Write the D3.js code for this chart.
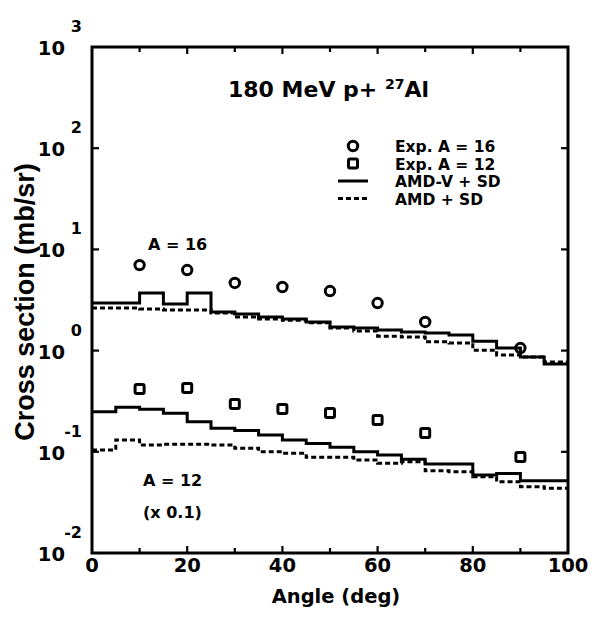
<!DOCTYPE html>
<html>
<head>
<meta charset="utf-8">
<script src="https://cdn.jsdelivr.net/npm/d3@7"></script>
<style>
  body { margin: 0; background: #fff; }
  svg text { font-family: "DejaVu Sans", sans-serif; font-weight: bold; fill: #000; }
</style>
</head>
<body>
<svg width="596" height="629"></svg>
<script>
// measured angles (deg) and cross sections (mb/sr)
var angles = [10, 20, 30, 40, 50, 60, 70, 90];
var expA16 = [7.0, 6.25, 4.66, 4.25, 3.88, 2.95, 1.92, 1.06];
var expA12 = [0.418, 0.427, 0.297, 0.265, 0.242, 0.206, 0.153, 0.089];

// histogram bins, 5 deg wide
var binEdges = [0, 5, 10, 15, 20, 25, 30, 35, 40, 45, 50, 55, 60, 65, 70, 75, 80, 85, 90, 95, 100];
var amdvA16 = [2.95, 2.95, 3.71, 2.89, 3.71, 2.41, 2.30, 2.15, 2.05, 1.92, 1.71, 1.67, 1.60, 1.53, 1.49, 1.43, 1.24, 1.06, 0.865, 0.738];
var amdA16 = [2.64, 2.64, 2.58, 2.52, 2.52, 2.35, 2.15, 2.05, 2.00, 1.88, 1.67, 1.56, 1.39, 1.36, 1.22, 1.19, 1.01, 0.905, 0.865, 0.771];
var amdvA12 = [0.249, 0.275, 0.263, 0.240, 0.198, 0.171, 0.162, 0.1466, 0.131, 0.121, 0.1107, 0.1002, 0.0929, 0.0843, 0.0757, 0.0757, 0.059, 0.0612, 0.0518, 0.0518];
var amdA12 = [0.1042, 0.131, 0.1167, 0.1186, 0.1186, 0.1167, 0.1084, 0.1002, 0.0966, 0.0883, 0.0883, 0.083, 0.0769, 0.0798, 0.065, 0.0636, 0.0567, 0.0507, 0.0452, 0.0436];

var xTicks = [0, 10, 20, 30, 40, 50, 60, 70, 80, 90, 100];
var xLabels = [0, 20, 40, 60, 80, 100];
var yTicks = [1e-2, 1e-1, 1e0, 1e1, 1e2, 1e3];
var yExps = ["-2", "-1", "0", "1", "2", "3"];

var legendLabels = ["Exp. A = 16", "Exp. A = 12", "AMD-V + SD", "AMD + SD"];

var svg = d3.select("svg");
var plotL = 92, plotR = 568, plotT = 47, plotB = 553;
var ink = "#000";

var x = d3.scaleLinear().domain([0, 100]).range([plotL, plotR]);
var y = d3.scaleLog().domain([1e-2, 1e3]).range([plotB, plotT]);

// histogram lines
function histPoints(vals) {
    var pts = vals.map(function(v, i) { return [binEdges[i], v]; });
    pts.push([binEdges[binEdges.length - 1], vals[vals.length - 1]]);
    return pts;
}
var step = d3.line()
    .x(function(d) { return x(d[0]); })
    .y(function(d) { return y(d[1]); })
    .curve(d3.curveStepAfter);

[[amdvA16, null], [amdA16, "5,3"], [amdvA12, null], [amdA12, "5,3"]].forEach(function(s) {
    svg.append("path")
        .datum(histPoints(s[0]))
        .attr("d", step)
        .attr("fill", "none")
        .attr("stroke", ink)
        .attr("stroke-width", 3)
        .attr("stroke-dasharray", s[1]);
});

// experimental points
svg.append("g").selectAll("circle")
    .data(angles)
    .enter().append("circle")
    .attr("cx", function(d) { return x(d); })
    .attr("cy", function(d, i) { return y(expA16[i]); })
    .attr("r", 4.7)
    .attr("fill", "none")
    .attr("stroke", ink)
    .attr("stroke-width", 3);

svg.append("g").selectAll("rect")
    .data(angles)
    .enter().append("rect")
    .attr("x", function(d) { return x(d) - 4.5; })
    .attr("y", function(d, i) { return y(expA12[i]) - 4.5; })
    .attr("width", 9)
    .attr("height", 9)
    .attr("rx", 1.5)
    .attr("fill", "none")
    .attr("stroke", ink)
    .attr("stroke-width", 3);

// frame
svg.append("rect")
    .attr("x", plotL).attr("y", plotT)
    .attr("width", plotR - plotL).attr("height", plotB - plotT)
    .attr("fill", "none")
    .attr("stroke", ink)
    .attr("stroke-width", 3);

// ticks
var tg = svg.append("g").attr("stroke", ink).attr("stroke-width", 2.2);
xTicks.slice(1, -1).forEach(function(t) {
    var len = (t % 20 == 0) ? 7 : 5;
    tg.append("line").attr("x1", x(t)).attr("x2", x(t)).attr("y1", plotB).attr("y2", plotB - len);
    tg.append("line").attr("x1", x(t)).attr("x2", x(t)).attr("y1", plotT).attr("y2", plotT + len);
});
yTicks.slice(1, -1).forEach(function(t) {
    tg.append("line").attr("x1", plotL).attr("x2", plotL + 7).attr("y1", y(t)).attr("y2", y(t));
    tg.append("line").attr("x1", plotR).attr("x2", plotR - 7).attr("y1", y(t)).attr("y2", y(t));
});

// tick labels
svg.append("g").selectAll("text")
    .data(xLabels)
    .enter().append("text")
    .attr("x", function(d) { return x(d); })
    .attr("y", 572)
    .attr("text-anchor", "middle")
    .style("font-size", "19.5px")
    .text(function(d) { return d; });

yTicks.forEach(function(t, i) {
    svg.append("text")
        .attr("x", 65).attr("y", y(t) + 8)
        .attr("text-anchor", "end")
        .style("font-size", "19.5px")
        .text("10");
    svg.append("text")
        .attr("x", 82).attr("y", y(t) - 15)
        .attr("text-anchor", "end")
        .style("font-size", "16px")
        .text(yExps[i]);
});

// axis titles
svg.append("text")
    .attr("x", 336).attr("y", 603)
    .attr("text-anchor", "middle")
    .style("font-size", "19.5px")
    .text("Angle (deg)");

svg.append("text")
    .attr("transform", "translate(34,302) rotate(-90)")
    .attr("text-anchor", "middle")
    .style("font-family", "'Liberation Sans', Arial, sans-serif")
    .style("font-size", "27px")
    .text("Cross section (mb/sr)");

// title
var title = svg.append("text")
    .attr("x", 228).attr("y", 97)
    .style("font-size", "22px");
title.append("tspan").text("180 MeV p+ ");
title.append("tspan").attr("dy", -8).style("font-size", "14px").text("27");
title.append("tspan").attr("dy", 8).text("Al");

// annotations
svg.append("text").attr("x", 148).attr("y", 250).style("font-size", "16px").text("A = 16");
svg.append("text").attr("x", 143).attr("y", 486).style("font-size", "16px").text("A = 12");
svg.append("text").attr("x", 143).attr("y", 518).style("font-size", "16px").text("(x 0.1)");

// legend
var legY = [146, 163.5, 181, 198.5];
var lg = svg.append("g");
lg.append("circle").attr("cx", 353).attr("cy", legY[0]).attr("r", 4.7)
    .attr("fill", "none").attr("stroke", ink).attr("stroke-width", 3);
lg.append("rect").attr("x", 348.5).attr("y", legY[1] - 4.5).attr("width", 9).attr("height", 9).attr("rx", 1.5)
    .attr("fill", "none").attr("stroke", ink).attr("stroke-width", 3);
lg.append("line").attr("x1", 338).attr("x2", 368).attr("y1", legY[2]).attr("y2", legY[2])
    .attr("stroke", ink).attr("stroke-width", 3);
lg.append("line").attr("x1", 338).attr("x2", 368).attr("y1", legY[3]).attr("y2", legY[3])
    .attr("stroke", ink).attr("stroke-width", 3).attr("stroke-dasharray", "5,3");
lg.selectAll("text")
    .data(legendLabels)
    .enter().append("text")
    .attr("x", 395)
    .attr("y", function(d, i) { return legY[i] + 6; })
    .style("font-size", "15.5px")
    .text(function(d) { return d; });
</script>
</body>
</html>
